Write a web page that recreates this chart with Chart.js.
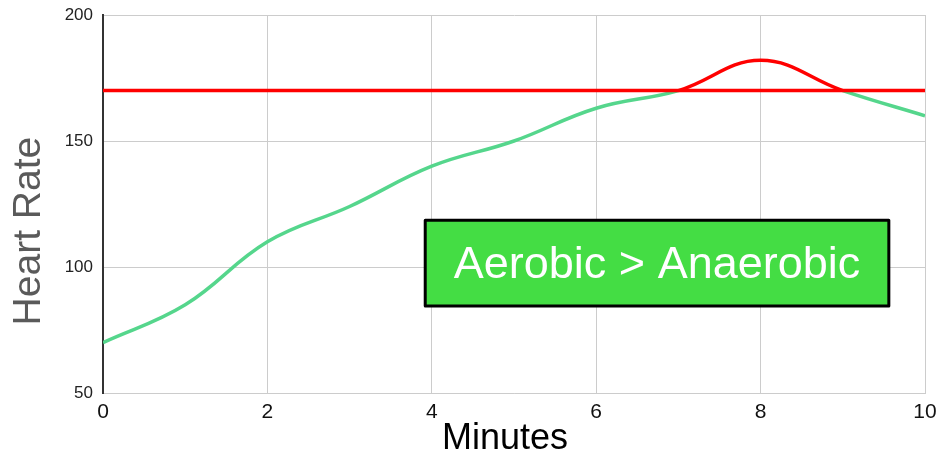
<!DOCTYPE html>
<html>
<head>
<meta charset="utf-8">
<script src="https://cdn.jsdelivr.net/npm/chart.js@4"></script>
<style>
  html, body { margin: 0; padding: 0; background: #fff; }
  #wrap { width: 939px; height: 457px; }
</style>
</head>
<body>
<div id="wrap"><canvas id="chart"></canvas></div>
<script>
// datos
var minutes = [0, 1, 2, 3, 4, 5, 6, 7, 8, 9, 10];
var heartRate = [70, 85, 110, 124, 140, 150, 163, 170, 182, 170, 160];
var threshold = 170;
var xTicks = [0, 2, 4, 6, 8, 10];
var yTicks = [50, 100, 150, 200];

// caja de texto (en unidades de los ejes)
var boxLabel = "Aerobic > Anaerobic";
var boxX = [3.92, 9.56];
var boxY = [84.5, 118.6];

var FONT = "'Liberation Sans', Arial, sans-serif";

// Dibuja la caja verde encima de las lineas
var boxPlugin = {
    id: "boxPlugin",
    afterDatasetsDraw: function(chart) {
        var ctx = chart.ctx;
        var xs = chart.scales.x, ys = chart.scales.y;
        var x1 = xs.getPixelForValue(boxX[0]), x2 = xs.getPixelForValue(boxX[1]);
        var y1 = ys.getPixelForValue(boxY[1]), y2 = ys.getPixelForValue(boxY[0]);
        ctx.save();
        ctx.fillStyle = "#44dd44";
        ctx.strokeStyle = "#000";
        ctx.lineWidth = 3;
        ctx.lineJoin = "round";
        ctx.beginPath();
        ctx.rect(x1, y1, x2 - x1, y2 - y1);
        ctx.fill();
        ctx.stroke();
        ctx.fillStyle = "#fff";
        ctx.font = "45px " + FONT;
        ctx.textAlign = "center";
        ctx.textBaseline = "middle";
        ctx.fillText(boxLabel, (x1 + x2) / 2, (y1 + y2) / 2 + 2);
        ctx.restore();
    }
};

var points = minutes.map(function(m, i) { return {x: m, y: heartRate[i]}; });
var limit = minutes.map(function(m) { return {x: m, y: threshold}; });

new Chart(document.getElementById("chart"), {
    type: "line",
    data: {
        datasets: [{
            label: "Limite",
            data: limit,
            borderColor: "#ff0000",
            borderWidth: 3.5,
            pointRadius: 0,
            tension: 0
        }, {
            label: "Heart Rate",
            data: points,
            borderColor: "#55d68c",
            borderWidth: 3.5,
            pointRadius: 0,
            tension: 0.4,
            segment: {
                // por encima del limite se pinta en rojo
                borderColor: function(c) {
                    return (c.p0.parsed.y >= threshold && c.p1.parsed.y >= threshold) ? "#ff0000" : undefined;
                }
            }
        }]
    },
    options: {
        responsive: true,
        maintainAspectRatio: false,
        animation: false,
        layout: { padding: { top: 15, right: 14, left: 0, bottom: 0 } },
        plugins: {
            legend: { display: false },
            tooltip: { enabled: false }
        },
        scales: {
            x: {
                type: "linear",
                min: 0,
                max: 10,
                afterBuildTicks: function(s) { s.ticks = xTicks.map(function(v) { return {value: v}; }); },
                afterFit: function(s) { s.height = 64; s.paddingLeft = 0; s.paddingRight = 0; },
                grid: { color: "#cccccc", lineWidth: 1, drawTicks: false },
                border: { color: "#cccccc", width: 1 },
                ticks: { color: "#111", padding: 7, font: { family: FONT, size: 21 } },
                title: {
                    display: true,
                    // el espacio final corre el titulo un poco a la izquierda
                    text: "Minutes\u2002",
                    color: "#000",
                    padding: 0,
                    font: { family: FONT, size: 36, lineHeight: 1 }
                }
            },
            y: {
                min: 50,
                max: 200,
                afterBuildTicks: function(s) { s.ticks = yTicks.map(function(v) { return {value: v}; }); },
                afterFit: function(s) { s.width = 103; s.paddingTop = 0; s.paddingBottom = 0; },
                grid: { color: "#cccccc", lineWidth: 1, drawTicks: false },
                border: { color: "#333333", width: 2 },
                ticks: { color: "#222", padding: 10, font: { family: FONT, size: 17 } },
                title: {
                    display: true,
                    // espacios finales para bajar el titulo
                    text: "Heart Rate     ",
                    color: "#5a5a5a",
                    padding: { top: 10, bottom: 0 },
                    font: { family: FONT, size: 39, lineHeight: 1 }
                }
            }
        }
    },
    plugins: [boxPlugin]
});
</script>
</body>
</html>
